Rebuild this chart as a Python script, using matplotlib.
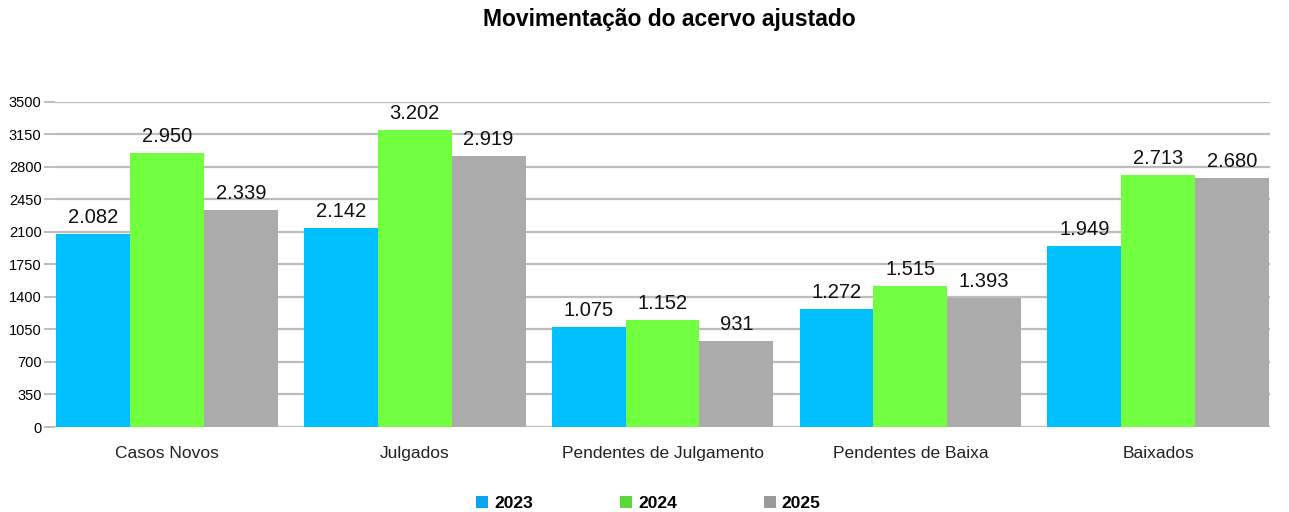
import matplotlib.pyplot as plt
from matplotlib.patches import Patch
import numpy as np

plt.rcParams['font.family'] = ['Liberation Sans', 'DejaVu Sans']

# data
categorias = ['Casos Novos', 'Julgados', 'Pendentes de Julgamento', 'Pendentes de Baixa', 'Baixados']
anos = ['2023', '2024', '2025']
v2023 = [2082, 2142, 1075, 1272, 1949]
v2024 = [2950, 3202, 1152, 1515, 2713]
v2025 = [2339, 2919, 931, 1393, 2680]

cores = ['#00BFFF', '#72FF40', '#ABABAB']
cores_leg = ['#0AA6F2', '#5CD93A', '#9A9A9A']

def fmt(v):
    # thousands separator as dot (pt-BR)
    return f'{v:,}'.replace(',', '.')

fig = plt.figure(figsize=(12.89, 5.12), dpi=100)
ax = fig.add_axes([0.043, 0.166, 0.942, 0.635])

x = np.arange(len(categorias))
w = 0.298
for i, (vals, cor) in enumerate(zip([v2023, v2024, v2025], cores)):
    pos = x + (i - 1) * w
    bars = ax.bar(pos, vals, width=w, color=cor, edgecolor='none', zorder=3)
    for b, v in zip(bars, vals):
        ax.annotate(fmt(v), (b.get_x() + b.get_width() / 2, v), xytext=(0, 5),
                    textcoords='offset points', ha='center', va='bottom',
                    fontsize=14.5, color='#111111', zorder=4)

ax.set_xlim(-0.45, 4.45)
ax.set_ylim(0, 3500)
ax.set_yticks(np.arange(0, 3501, 350))
ax.yaxis.grid(True, color='#BDBDBD', linewidth=1.6, zorder=0)
ax.set_axisbelow(True)
for s in ax.spines.values():
    s.set_visible(False)
ax.tick_params(axis='y', length=8, width=1.4, color='#BDBDBD', labelsize=10.5, pad=2)
ax.tick_params(axis='x', length=0, labelsize=12.5, pad=14)
ax.set_xticks(x)
ax.set_xticklabels(categorias, color='#222222')

fig.suptitle('Movimentação do acervo ajustado', x=0.519, y=0.985, fontsize=16.5, fontweight='bold')

handles = [Patch(facecolor=c, edgecolor='none') for c in cores_leg]
leg = fig.legend(handles, anos, loc='center', bbox_to_anchor=(0.503, 0.017), ncol=3,
                 frameon=False, handlelength=0.7, handleheight=0.7, handletextpad=0.35,
                 columnspacing=5.0, prop={'weight': 'bold', 'size': 12.5})

fig.savefig('out.png', dpi=100)
